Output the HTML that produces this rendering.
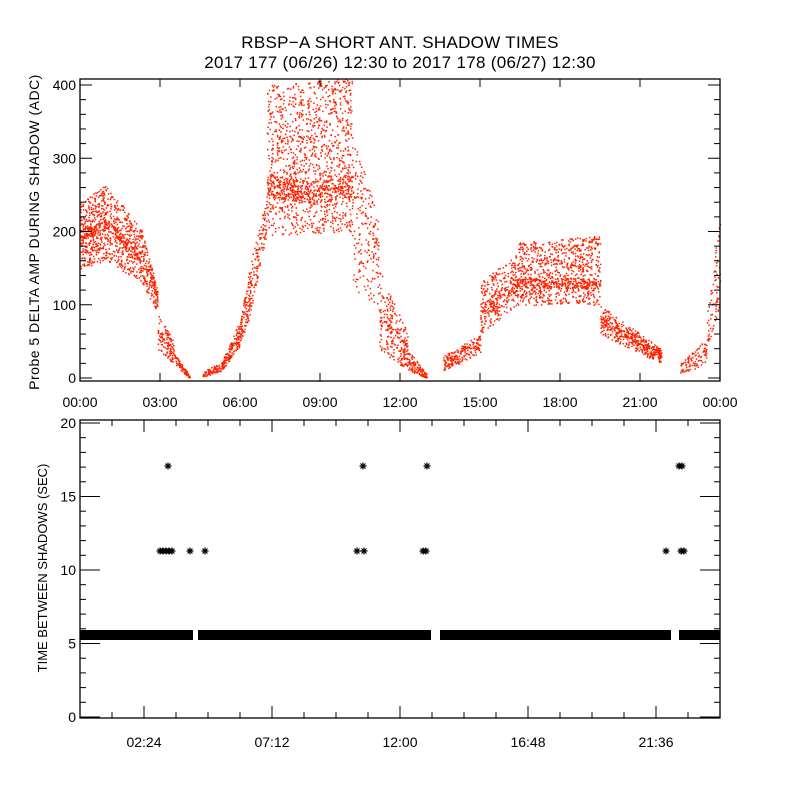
<!DOCTYPE html>
<html><head><meta charset="utf-8"><style>
body{margin:0;background:#fff}
svg{display:block;font-family:"Liberation Sans",sans-serif}
</style></head><body>
<svg id="s" width="800" height="800" xmlns="http://www.w3.org/2000/svg">
<rect width="800" height="800" fill="#fff"/>
<text x="400" y="48" font-size="17" text-anchor="middle" letter-spacing="0.3">RBSP−A SHORT ANT. SHADOW TIMES</text>
<text x="400" y="68" font-size="17" text-anchor="middle" letter-spacing="0.3">2017 177 (06/26) 12:30 to 2017 178 (06/27) 12:30</text>
<g id="top"></g>
<g id="bot"></g>
<rect x="80" y="79" width="640" height="302" fill="none" stroke="#000" stroke-width="1.3"/>
<rect x="80" y="420" width="640" height="298" fill="none" stroke="#000" stroke-width="1.3"/>
<text transform="translate(39,232) rotate(-90)" font-size="14" text-anchor="middle" letter-spacing="0.5">Probe 5 DELTA AMP DURING SHADOW (ADC)</text>
<text transform="translate(47,568) rotate(-90)" font-size="13" text-anchor="middle">TIME BETWEEN SHADOWS (SEC)</text>
<g id="ax" font-size="14"></g>
</svg>
<script>
var NS="http://www.w3.org/2000/svg";
function el(p,t,a,txt){var e=document.createElementNS(NS,t);for(var k in a)e.setAttribute(k,a[k]);if(txt)e.textContent=txt;p.appendChild(e);return e;}
var ax=document.getElementById('ax'),top_=document.getElementById('top'),bot=document.getElementById('bot');
var seed=12345;function R(){seed=(seed*16807)%2147483647;return seed/2147483647;}
function yT(v){return 378-v*0.7325;}
for(var v=0;v<=400;v+=20){var y=yT(v),L=(v%100==0)?12:6;el(ax,'line',{x1:80,y1:y,x2:80+L,y2:y,stroke:'#000'});el(ax,'line',{x1:720,y1:y,x2:720-L,y2:y,stroke:'#000'});
 if(v%100==0)el(ax,'text',{x:76,y:y+5,'text-anchor':'end'},''+v);}
var tl=['00:00','03:00','06:00','09:00','12:00','15:00','18:00','21:00','00:00'];
for(var i=0;i<=8;i++){var x=80+i*80;el(ax,'line',{x1:x,y1:79,x2:x,y2:87,stroke:'#000'});el(ax,'line',{x1:x,y1:381,x2:x,y2:373,stroke:'#000'});el(ax,'text',{x:x,y:407,'text-anchor':'middle'},tl[i]);}
function yB(v){return 717-v*14.7;}
for(var v=0;v<=20;v++){var y=yB(v);if(v%5==0){el(ax,'line',{x1:80,y1:y,x2:100,y2:y,stroke:'#000'});el(ax,'line',{x1:720,y1:y,x2:700,y2:y,stroke:'#000'});el(ax,'text',{x:76,y:y+5,'text-anchor':'end'},''+v);}
 else{el(ax,'line',{x1:80,y1:y,x2:86,y2:y,stroke:'#000'});el(ax,'line',{x1:720,y1:y,x2:714,y2:y,stroke:'#000'});}}
var bl={144:'02:24',272:'07:12',400:'12:00',528:'16:48',656:'21:36'};
for(var x=112;x<720;x+=32){var M=bl[x]?12:6;el(ax,'line',{x1:x,y1:718,x2:x,y2:718-M,stroke:'#000'});el(ax,'line',{x1:x,y1:420,x2:x,y2:420+M,stroke:'#000'});if(bl[x])el(ax,'text',{x:x,y:747,'text-anchor':'middle'},bl[x]);}
function X(t){return 80+t*26.667;}
var pts=[];
function seg(t0,t1,n,lo,hi,band,bw){for(var i=0;i<n;i++){var t=t0+R()*(t1-t0),f=(t-t0)/(t1-t0),l=lo(f),h=hi(f),v;
 if(band&&R()<0.22){v=band(f)+(R()-0.5)*bw;}else v=l+R()*(h-l);pts.push([X(t),yT(v)]);}}
function lin(a,b){return function(f){return a+(b-a)*f;};}
seg(0,1,450,lin(150,160),lin(240,265),lin(195,210),14);
seg(1,2.3,450,lin(160,130),lin(262,205),lin(210,165),14);
seg(2.3,2.9,180,lin(130,90),lin(205,120),lin(165,115),12);
seg(2.9,3.5,120,lin(40,20),lin(90,50),lin(60,35),12);
seg(3.5,4.1,80,lin(20,0),lin(35,4),null,0);
seg(4.6,5.3,80,lin(2,10),lin(10,22),null,0);
seg(5.3,6.0,150,lin(10,45),lin(22,80),null,0);
seg(6.0,6.4,120,lin(45,90),lin(80,160),null,0);
seg(6.4,7.0,110,lin(90,200),lin(160,250),null,0);
seg(7.0,10.2,1500,lin(195,200),lin(400,410),function(f){return 265-10*Math.sin(f*3);},30);
seg(10.2,11.2,200,lin(120,90),lin(330,220),null,0);
seg(11.2,12.3,250,lin(40,10),lin(150,60),lin(90,30),25);
seg(12.3,13.0,100,lin(10,0),lin(40,5),null,0);
seg(13.6,15.0,200,lin(10,35),lin(30,60),null,0);
seg(15.0,16.4,350,lin(60,100),lin(130,175),lin(90,130),20);
seg(16.4,19.5,1000,lin(100,100),lin(185,195),lin(130,130),15);
seg(19.5,21.8,450,lin(60,20),lin(100,40),lin(80,30),12);
seg(22.5,23.5,100,lin(5,20),lin(20,55),null,0);
seg(23.5,24,80,lin(40,100),lin(100,220),null,0);
var d='';pts.forEach(function(p){d+='M'+p[0].toFixed(1)+' '+p[1].toFixed(1)+'h1.5v1.5h-1.5z';});
el(top_,'path',{d:d,fill:'#ff2200'});
[[80,193],[198,431],[440,671],[679,720]].forEach(function(s){el(bot,'rect',{x:s[0],y:630,width:s[1]-s[0],height:10,fill:'#000'});});
function star(x,y){var g='M'+(x-3.5)+' '+y+'h7M'+x+' '+(y-3.5)+'v7M'+(x-2.5)+' '+(y-2.5)+'l5 5M'+(x-2.5)+' '+(y+2.5)+'l5 -5';el(bot,'path',{d:g,stroke:'#000','stroke-width':1.2,fill:'none'});}
[160,163,166,169,172,190,205,357,364,423,426,666,681,684].forEach(function(x){star(x,551);});
[168,363,427,679,682].forEach(function(x){star(x,466);});
</script>
</body></html>
